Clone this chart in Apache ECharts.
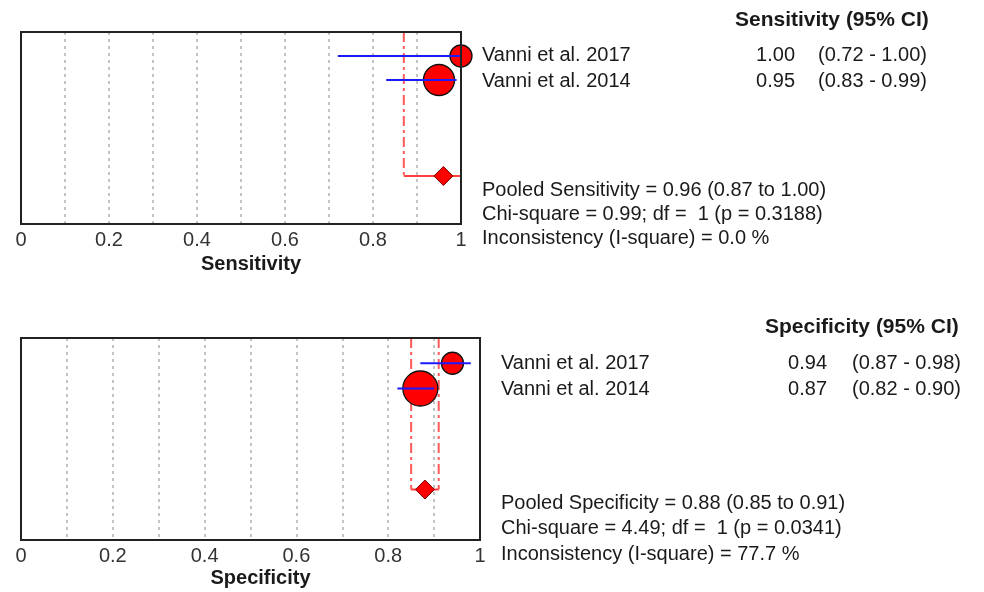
<!DOCTYPE html>
<html><head><meta charset="utf-8">
<script src="https://cdn.jsdelivr.net/npm/echarts@6/dist/echarts.min.js"></script>
<style>html,body{margin:0;padding:0;background:#fff}#c{width:984px;height:592px}</style>
</head><body><div id="c"></div>
<script>
// ---- data ----
const studies = ['Vanni et al. 2017', 'Vanni et al. 2014'];
const sensEst = [1.00, 0.95];
const sensLo = [0.72, 0.83];
const sensHi = [1.00, 0.99];
const specEst = [0.94, 0.87];
const specLo = [0.87, 0.82];
const specHi = [0.98, 0.90];
const pooledSens = [0.96, 0.87, 1.00]; // estimate, lo, hi
const pooledSpec = [0.88, 0.85, 0.91];
const sensStats = ['Chi-square = 0.99; df =  1 (p = 0.3188)', 'Inconsistency (I-square) = 0.0 %'];
const specStats = ['Chi-square = 4.49; df =  1 (p = 0.0341)', 'Inconsistency (I-square) = 77.7 %'];
const xTicks = [0, 0.2, 0.4, 0.6, 0.8, 1];
const studyRows = [1, 2];
const pooledRow = 6;

// ---- style ----
const FONT = 'Liberation Sans, Arial, sans-serif';
const TXT = '#1a1a1a';
const sizesSens = [22, 31];
const sizesSpec = [22, 35];

function panelSeries(gi, est, lo, hi, pooled, sizes, rightDark) {
  const s = [];
  s.push({type:'line', xAxisIndex:gi*2, yAxisIndex:gi, symbol:'none', silent:true, z:3,
    data:[[pooled[1],0],[pooled[1],pooledRow]],
    lineStyle:{color:'#ff5a5a', width:2, type:[10,4,3,4]}});
  s.push({type:'line', xAxisIndex:gi*2, yAxisIndex:gi, symbol:'none', silent:true, z:3,
    data:[[pooled[2],0],[pooled[2],pooledRow]],
    lineStyle:{color: rightDark ? '#b01010' : '#ff5a5a', width:2, type: rightDark ? [8,5] : [10,4,3,4]}});
  s.push({type:'line', xAxisIndex:gi*2, yAxisIndex:gi, symbol:'none', silent:true, z:3,
    data:[[pooled[1],pooledRow],[pooled[2],pooledRow]],
    lineStyle:{color:'#ff4040', width:2}});
  s.push({type:'scatter', xAxisIndex:gi*2, yAxisIndex:gi, z:4,
    data: est.map((v,i)=>({value:[v, studyRows[i]], symbolSize:sizes[i]})),
    itemStyle:{color:'#ff0000', borderColor:'#111', borderWidth:1.3, opacity:1}});
  est.forEach((v,i)=>{
    s.push({type:'line', xAxisIndex:gi*2, yAxisIndex:gi, symbol:'none', silent:true, z:5,
      data:[[lo[i],studyRows[i]],[hi[i],studyRows[i]]],
      lineStyle:{color:'#1a1aff', width:2}});
  });
  s.push({type:'scatter', xAxisIndex:gi*2, yAxisIndex:gi, z:6, symbol:'diamond', symbolSize:[19,19],
    data:[[pooled[0], pooledRow]],
    itemStyle:{color:'#ff0000', borderColor:'#7a0000', borderWidth:1, opacity:1}});
  return s;
}

function xAxes(gi, name, gap) {
  return [{
    type:'value', gridIndex:gi, min:0, max:1, interval:0.2,
    axisLine:{show:false}, axisTick:{show:false}, splitLine:{show:false},
    axisLabel:{color:'#333', fontSize:20, fontFamily:FONT, margin:6, customValues: xTicks},
    name:name, nameLocation:'middle', nameGap:gap,
    nameTextStyle:{color:TXT, fontSize:20, fontWeight:'bold', fontFamily:FONT, padding:[0,0,0,20]}
  },{
    type:'value', gridIndex:gi, min:0, max:1, interval:0.1, show:true,
    axisLine:{show:false}, axisTick:{show:false}, axisLabel:{show:false},
    splitLine:{show:true, lineStyle:{color:'#b0b0b0', width:1.5, type:[3,4]}}
  }];
}

const chart = echarts.init(document.getElementById('c'), null, {renderer:'canvas'});

const graphics = [];
function txt(x, y, t, opt) {
  graphics.push({type:'text', x:x, y:y, silent:true, style:Object.assign({
    text:t, fill:TXT, font:'20px ' + FONT, textVerticalAlign:'middle', textAlign:'left'}, opt||{})});
}
txt(735, 20, 'Sensitivity (95% CI)', {font:'bold 21px ' + FONT});
studies.forEach((n,i)=>{
  const y = [55, 81][i];
  txt(482, y, n);
  txt(795, y, sensEst[i].toFixed(2), {textAlign:'right'});
  txt(818, y, '(' + sensLo[i].toFixed(2) + ' - ' + sensHi[i].toFixed(2) + ')');
});
txt(482, 190, 'Pooled Sensitivity = ' + pooledSens[0].toFixed(2) + ' (' + pooledSens[1].toFixed(2) + ' to ' + pooledSens[2].toFixed(2) + ')');
txt(482, 214, sensStats[0]);
txt(482, 238, sensStats[1]);
txt(765, 327, 'Specificity (95% CI)', {font:'bold 21px ' + FONT});
studies.forEach((n,i)=>{
  const y = [363, 389][i];
  txt(501, y, n);
  txt(827, y, specEst[i].toFixed(2), {textAlign:'right'});
  txt(852, y, '(' + specLo[i].toFixed(2) + ' - ' + specHi[i].toFixed(2) + ')');
});
txt(501, 503, 'Pooled Specificity = ' + pooledSpec[0].toFixed(2) + ' (' + pooledSpec[1].toFixed(2) + ' to ' + pooledSpec[2].toFixed(2) + ')');
txt(501, 528, specStats[0]);
txt(501, 554, specStats[1]);

chart.setOption({
  animation:false,
  backgroundColor:'#fff',
  grid:[
    {left:21, top:32, width:440, height:192, show:true, borderColor:'#222', borderWidth:2, backgroundColor:'transparent', z:10},
    {left:21, top:338, width:459, height:202, show:true, borderColor:'#222', borderWidth:2, backgroundColor:'transparent', z:10}
  ],
  xAxis: [].concat(xAxes(0,'Sensitivity',30), xAxes(1,'Specificity',28)),
  yAxis: [
    {type:'value', gridIndex:0, min:0, max:8, inverse:true, show:false},
    {type:'value', gridIndex:1, min:0, max:8, inverse:true, show:false}
  ],
  series: [].concat(
    panelSeries(0, sensEst, sensLo, sensHi, pooledSens, sizesSens, true),
    panelSeries(1, specEst, specLo, specHi, pooledSpec, sizesSpec, false)
  ),
  graphic: graphics
});
</script></body></html>
